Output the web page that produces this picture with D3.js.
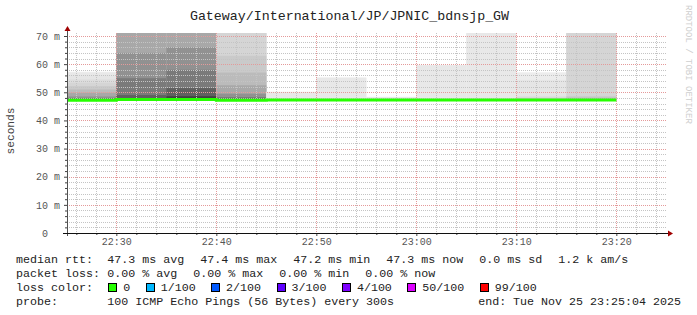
<!DOCTYPE html>
<html>
<head>
<meta charset="utf-8">
<script src="https://cdn.jsdelivr.net/npm/d3@7"></script>
<style>
    body { margin: 0; background: #fff; }
    svg { display: block; font-family: "Liberation Mono", "DejaVu Sans Mono", monospace; }
    text { white-space: pre; }
</style>
</head>
<body>
<div id="graph"></div>
<script>

// 5 minute bins, start time of each one
var binStarts = ["22:25", "22:30", "22:35", "22:40", "22:45", "22:50", "22:55", "23:00", "23:05", "23:10", "23:15"];
var binEnd = "23:20";
var graphStart = "2025-11-25 22:25:04",
    graphEnd = "2025-11-25 23:25:04";

// median rtt (ms) and fastest ping of each bin
var medianRtt = [47.2, 47.4, 47.4, 47.2, 47.3, 47.3, 47.3, 47.3, 47.3, 47.3, 47.3];
var pingMin = [47.1, 47.2, 47.2, 47.1, 47.2, 47.2, 47.2, 47.2, 47.2, 47.2, 47.2];

// sorted pings, counted down from the slowest one (1 = max of 100 pings)
var smokeRanks = [1, 2, 3, 5, 7, 10, 14, 19, 25, 31, 38, 46];
var smoke2225 = [57.3, 57.0, 56.0, 54.6, 53.4, 52.2, 51.0, 49.8, 48.5, 47.9, 47.7, 47.4];
var smoke2230 = [95.0, 88.0, 84.0, 79.0, 76.0, 74.0, 72.5, 71.5, 64.0, 55.0, 49.0, 47.8];
var smoke2235 = [98.0, 92.0, 87.0, 82.0, 79.0, 76.0, 74.0, 72.0, 66.0, 58.0, 51.5, 48.6];
var smoke2240 = [88.0, 80.0, 76.0, 73.0, 71.5, 63.0, 57.0, 52.5, 49.5, 48.3, 47.8, 47.4];
var smoke2245 = [50.2, 50.0, 47.8, 47.6, 47.5, 47.5, 47.4, 47.4, 47.4, 47.3, 47.3, 47.3];
var smoke2250 = [55.3, 55.1, 47.9, 47.6, 47.5, 47.5, 47.4, 47.4, 47.4, 47.3, 47.3, 47.3];
var smoke2255 = [48.4, 48.3, 47.7, 47.6, 47.5, 47.5, 47.4, 47.4, 47.4, 47.3, 47.3, 47.3];
var smoke2300 = [59.7, 59.5, 47.9, 47.6, 47.5, 47.5, 47.4, 47.4, 47.4, 47.3, 47.3, 47.3];
var smoke2305 = [78.0, 74.0, 48.0, 47.7, 47.5, 47.5, 47.4, 47.4, 47.4, 47.3, 47.3, 47.3];
var smoke2310 = [57.1, 54.4, 54.3, 48.6, 48.2, 47.9, 47.7, 47.6, 47.5, 47.4, 47.3, 47.3];
var smoke2315 = [85.0, 79.0, 75.0, 72.0, 71.5, 48.6, 48.1, 47.8, 47.6, 47.5, 47.4, 47.3];
var smokeBins = [smoke2225, smoke2230, smoke2235, smoke2240, smoke2245, smoke2250,
    smoke2255, smoke2300, smoke2305, smoke2310, smoke2315];

var yTicks = [0, 10, 20, 30, 40, 50, 60, 70];
var yTickLabels = ["0  ", "10 m", "20 m", "30 m", "40 m", "50 m", "60 m", "70 m"];
var yMax = 71.07;

var title = "Gateway/International/JP/JPNIC_bdnsjp_GW";

var rttLabels = ["47.3 ms avg", "47.4 ms max", "47.2 ms min", "47.3 ms now", "0.0 ms sd", "1.2 k am/s"];
var lossLabels = ["0.00 % avg", "0.00 % max", "0.00 % min", "0.00 % now"];
var lossColorLabels = ["0", "1/100", "2/100", "3/100", "4/100", "50/100", "99/100"];
var lossColors = ["#26ff00", "#00b8ff", "#0059ff", "#5e00ff", "#7e00ff", "#dd00ff", "#ff0000"];
var probeText = "100 ICMP Echo Pings (56 Bytes) every 300s";
var endText = "end: Tue Nov 25 23:25:04 2025";

var W = 697, H = 315;
var plotLeft = 67, plotRight = 667, plotTop = 33, plotBottom = 233;

var parseTime = d3.timeParse("%Y-%m-%d %H:%M:%S");
var parseMin = function (s) { return parseTime("2025-11-25 " + s + ":00"); };

var x = d3.scaleTime()
    .domain([parseTime(graphStart), parseTime(graphEnd)])
    .range([plotLeft, plotRight]);
var y = d3.scaleLinear().domain([0, yMax]).range([plotBottom, plotTop]);

var svg = d3.select("#graph").append("svg")
    .attr("width", W)
    .attr("height", H);

svg.append("rect").attr("width", W).attr("height", H).attr("fill", "#fff");

svg.append("clipPath").attr("id", "plot")
    .append("rect")
    .attr("x", plotLeft).attr("y", plotTop)
    .attr("width", plotRight - plotLeft).attr("height", plotBottom - plotTop);

// smoke: outer (slow) pings light, inner ones darker, like smokeping does it
function smokeGray(rank) {
    var v = Math.round(50 + 190 * (50 - rank) / 50);
    return d3.rgb(v, v, v).toString();
}

var smoke = svg.append("g").attr("clip-path", "url(#plot)");
binStarts.forEach(function (s, b) {
    var x0 = x(parseMin(s)),
        x1 = x(d3.timeMinute.offset(parseMin(s), 5));
    smokeBins[b].forEach(function (v, k) {
        smoke.append("rect")
            .attr("x", x0)
            .attr("width", x1 - x0)
            .attr("y", y(v))
            .attr("height", y(pingMin[b]) - y(v))
            .attr("fill", smokeGray(smokeRanks[k]));
    });
});

// grid
var grid = svg.append("g").attr("fill", "none").attr("stroke-dasharray", "1,1");
var minorX = x.ticks(d3.timeMinute.every(2)).filter(function (d) { return d.getMinutes() % 10 !== 0; });
var majorX = x.ticks(d3.timeMinute.every(10));
var minorY = y.ticks(35).filter(function (d) { return d % 10 !== 0; });

grid.selectAll(".minx").data(minorX).enter().append("line")
    .attr("x1", function (d) { return Math.round(x(d)) + 0.5; })
    .attr("x2", function (d) { return Math.round(x(d)) + 0.5; })
    .attr("y1", plotTop).attr("y2", plotBottom)
    .attr("stroke", "#c4c4c4");
grid.selectAll(".miny").data(minorY).enter().append("line")
    .attr("x1", plotLeft).attr("x2", plotRight)
    .attr("y1", function (d) { return Math.round(y(d)) + 0.5; })
    .attr("y2", function (d) { return Math.round(y(d)) + 0.5; })
    .attr("stroke", "#c4c4c4");
grid.selectAll(".majx").data(majorX).enter().append("line")
    .attr("x1", function (d) { return Math.round(x(d)) + 0.5; })
    .attr("x2", function (d) { return Math.round(x(d)) + 0.5; })
    .attr("y1", plotTop).attr("y2", plotBottom)
    .attr("stroke", "#e49a9a");
grid.selectAll(".majy").data(yTicks.slice(1)).enter().append("line")
    .attr("x1", plotLeft).attr("x2", plotRight)
    .attr("y1", function (d) { return Math.round(y(d)) + 0.5; })
    .attr("y2", function (d) { return Math.round(y(d)) + 0.5; })
    .attr("stroke", "#e49a9a");

// median rtt line
var medianPts = binStarts.map(function (s, i) { return [parseMin(s), medianRtt[i]]; });
medianPts.push([parseMin(binEnd), medianRtt[medianRtt.length - 1]]);

svg.append("path")
    .datum(medianPts)
    .attr("clip-path", "url(#plot)")
    .attr("fill", "none")
    .attr("stroke", lossColors[0])
    .attr("stroke-width", 3)
    .attr("d", d3.line()
        .x(function (d) { return x(d[0]); })
        .y(function (d) { return y(d[1]); })
        .curve(d3.curveStepAfter));

// axes
var yAxis = svg.append("g")
    .attr("transform", "translate(" + plotLeft + ",0)")
    .call(d3.axisLeft(y).tickValues(yTicks)
        .tickFormat(function (d, i) { return yTickLabels[i]; })
        .tickSize(3).tickPadding(4));
yAxis.select(".domain").remove();

svg.append("g")
    .attr("transform", "translate(" + plotLeft + ",0)")
    .call(d3.axisLeft(y).tickValues(minorY).tickFormat("").tickSize(2))
    .select(".domain").remove();

var xAxis = svg.append("g")
    .attr("transform", "translate(0," + plotBottom + ")")
    .call(d3.axisBottom(x).ticks(d3.timeMinute.every(10))
        .tickFormat(d3.timeFormat("%H:%M"))
        .tickSize(3).tickPadding(2));
xAxis.select(".domain").remove();

svg.append("g")
    .attr("transform", "translate(0," + plotBottom + ")")
    .call(d3.axisBottom(x).tickValues(minorX).tickFormat("").tickSize(2))
    .select(".domain").remove();

svg.selectAll(".tick line").attr("stroke", "#404040");
svg.selectAll(".tick text")
    .attr("font-family", "Liberation Mono, monospace")
    .attr("font-size", 10)
    .attr("fill", "#555");

svg.append("line")
    .attr("x1", plotLeft + 0.5).attr("x2", plotLeft + 0.5)
    .attr("y1", plotBottom + 3).attr("y2", plotTop - 4)
    .attr("stroke", "#505050");
svg.append("line")
    .attr("x1", plotLeft - 4).attr("x2", plotRight + 3)
    .attr("y1", plotBottom + 0.5).attr("y2", plotBottom + 0.5)
    .attr("stroke", "#101010");

svg.append("path")
    .attr("d", "M" + (plotLeft + 0.5) + "," + (plotTop - 7) + "l3,5h-6z")
    .attr("fill", "#a00000");
svg.append("path")
    .attr("d", "M" + (plotRight + 6) + "," + (plotBottom + 0.5) + "l-5,-3v6z")
    .attr("fill", "#a00000");

// title and labels
svg.append("text")
    .attr("x", W / 2 + 1).attr("y", 20)
    .attr("text-anchor", "middle")
    .attr("font-size", 13.3)
    .attr("fill", "#222")
    .text(title);

svg.append("text")
    .attr("transform", "translate(14,131) rotate(-90)")
    .attr("text-anchor", "middle")
    .attr("font-size", 11.2)
    .attr("fill", "#444")
    .text("seconds");

svg.append("text")
    .attr("transform", "translate(686,5) rotate(90)")
    .attr("font-size", 9)
    .attr("fill", "#cfcfcf")
    .text("RRDTOOL / TOBI OETIKER");

// legend
var legend = svg.append("g")
    .attr("font-size", 11.67)
    .attr("fill", "#222");
var cw = 7, col = 107.3, rowY = [262.5, 276.5, 290.5, 304.5];

legend.append("text").attr("x", 16).attr("y", rowY[0]).text("median rtt:");
legend.append("text").attr("x", 16).attr("y", rowY[1]).text("packet loss:");
legend.append("text").attr("x", 16).attr("y", rowY[2]).text("loss color:");
legend.append("text").attr("x", 16).attr("y", rowY[3]).text("probe:");

var lx = col;
rttLabels.forEach(function (t) {
    legend.append("text").attr("x", lx).attr("y", rowY[0]).text(t);
    lx += t.length * cw + 16;
});
lx = col;
lossLabels.forEach(function (t) {
    legend.append("text").attr("x", lx).attr("y", rowY[1]).text(t);
    lx += t.length * cw + 16;
});
lx = col + 1;
lossColorLabels.forEach(function (t, i) {
    legend.append("rect")
        .attr("x", Math.round(lx) + 0.5).attr("y", rowY[2] - 7)
        .attr("width", 8).attr("height", 8)
        .attr("fill", lossColors[i])
        .attr("stroke", "#000");
    legend.append("text").attr("x", lx + 15).attr("y", rowY[2]).text(t);
    lx += 15 + t.length * cw + 15.4;
});
legend.append("text").attr("x", col).attr("y", rowY[3]).text(probeText);
legend.append("text").attr("x", 681).attr("y", rowY[3])
    .attr("text-anchor", "end").text(endText);

</script>
</body>
</html>
